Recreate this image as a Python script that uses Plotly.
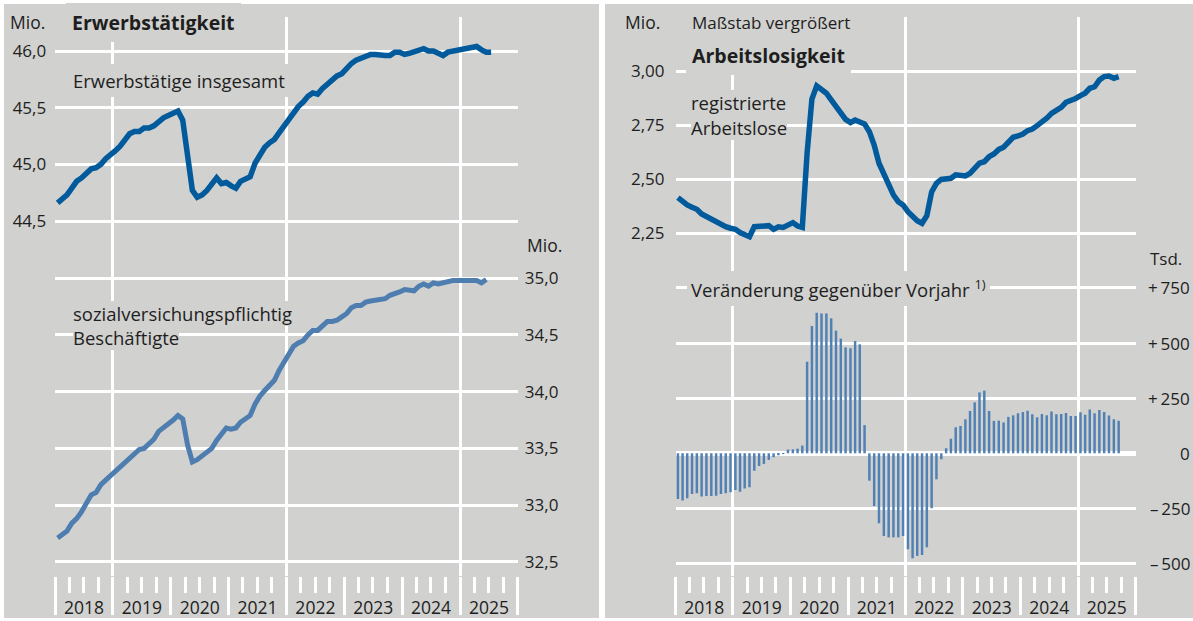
import plotly.graph_objects as go

# ---------------- data ----------------
# Erwerbstätige insgesamt, Mio., monthly Jan 2018 - Jul 2025
erwerbstaetige = [
    44.66, 44.69, 44.73, 44.79, 44.85, 44.88, 44.92, 44.96, 44.97, 45.00, 45.05, 45.08,
    45.12, 45.16, 45.21, 45.27, 45.29, 45.29, 45.32, 45.32, 45.34, 45.38, 45.41, 45.43,
    45.45, 45.47, 45.39, 45.05, 44.77, 44.71, 44.73, 44.77, 44.83, 44.88, 44.83, 44.84,
    44.81, 44.79, 44.85, 44.87, 44.89, 45.01, 45.09, 45.15, 45.19, 45.22, 45.28, 45.34,
    45.41, 45.46, 45.51, 45.55, 45.60, 45.63, 45.62, 45.67, 45.71, 45.75, 45.78, 45.80,
    45.85, 45.89, 45.92, 45.94, 45.96, 45.97, 45.97, 45.96, 45.96, 45.96, 45.99, 45.99,
    45.97, 45.98, 45.99, 46.01, 46.02, 46.00, 46.00, 45.98, 45.96, 45.99, 46.00, 46.01,
    46.01, 46.03, 46.03, 46.04, 46.01, 45.99, 45.99,
]
# sozialversicherungspflichtig Beschäftigte, Mio., Jan 2018 - Jun 2025
beschaeftigte_svp = [
    32.71, 32.74, 32.77, 32.84, 32.88, 32.94, 33.01, 33.09, 33.11, 33.18, 33.22, 33.26,
    33.30, 33.34, 33.38, 33.41, 33.46, 33.49, 33.50, 33.54, 33.58, 33.65, 33.68, 33.71,
    33.75, 33.79, 33.76, 33.53, 33.38, 33.40, 33.43, 33.46, 33.50, 33.57, 33.63, 33.68,
    33.67, 33.68, 33.73, 33.76, 33.79, 33.89, 33.96, 34.01, 34.06, 34.10, 34.19, 34.26,
    34.34, 34.40, 34.43, 34.45, 34.50, 34.54, 34.54, 34.58, 34.62, 34.62, 34.63, 34.66,
    34.69, 34.74, 34.76, 34.76, 34.79, 34.80, 34.81, 34.82, 34.82, 34.85, 34.86, 34.88,
    34.90, 34.90, 34.89, 34.93, 34.95, 34.93, 34.96, 34.95, 34.96, 34.98, 34.98, 34.98,
    34.98, 34.98, 34.98, 34.98, 34.96, 34.99,
]
# registrierte Arbeitslose, Mio., Jan 2018 - Sep 2025
arbeitslose = [
    2.414, 2.395, 2.380, 2.369, 2.360, 2.338, 2.326, 2.315, 2.298, 2.290, 2.279, 2.272,
    2.267, 2.252, 2.241, 2.233, 2.279, 2.282, 2.282, 2.284, 2.267, 2.279, 2.276, 2.287,
    2.298, 2.282, 2.276, 2.620, 2.870, 2.931, 2.915, 2.897, 2.866, 2.835, 2.801, 2.776,
    2.761, 2.773, 2.764, 2.755, 2.719, 2.657, 2.573, 2.519, 2.472, 2.426, 2.395, 2.380,
    2.349, 2.326, 2.307, 2.295, 2.330, 2.440, 2.480, 2.498, 2.503, 2.503, 2.519, 2.514,
    2.514, 2.526, 2.549, 2.573, 2.580, 2.603, 2.616, 2.637, 2.647, 2.673, 2.693, 2.699,
    2.708, 2.724, 2.731, 2.747, 2.762, 2.781, 2.804, 2.815, 2.832, 2.855, 2.863, 2.873,
    2.886, 2.897, 2.920, 2.927, 2.958, 2.974, 2.977, 2.966, 2.974,
]
# Veränderung gegenüber Vorjahr, Tsd., Jan 2018 - Sep 2025
veraenderung_vorjahr = [
    -207, -214, -204, -184, -181, -196, -193, -193, -192, -184, -181, -177,
    -166, -174, -159, -154, -79, -57, -48, -30, -18, -9, -3, 17,
    18, 21, 35, 415, 577, 637, 634, 634, 612, 556, 520, 480,
    476, 509, 494, 128, -124, -239, -317, -375, -381, -381, -381, -375,
    -435, -476, -465, -461, -426, -249, -118, -27, 23, 66, 118, 124,
    154, 192, 231, 276, 284, 192, 147, 148, 140, 165, 172, 181,
    187, 193, 177, 163, 178, 172, 190, 177, 178, 183, 169, 169,
    186, 175, 198, 181, 196, 187, 171, 154, 148,
]
erw_ticks = [44.5, 45.0, 45.5, 46.0]
svp_ticks = [32.5, 33.0, 33.5, 34.0, 34.5, 35.0]
alo_ticks = [2.25, 2.50, 2.75, 3.00]
tsd_ticks = [-500, -250, 0, 250, 500, 750]
tsd_labels = ["\u2013\u2009500", "\u2013\u2009250", "0", "+\u2009250", "+\u2009500", "+\u2009750"]


def months(n):
    return [f"{2018 + i // 12}-{i % 12 + 1:02d}" for i in range(n)]


# ---------------- styling ----------------
W, H = 1193, 621
GREY = "#d1d1cf"
DARK = "#005a9b"
LIGHT = "#4e7daf"
BAR = "#5080b4"
TXT = "#1e1e1e"
FONT = "Open Sans"


def px(x):
    return x / W


def py(y):
    return 1 - y / H


XR = ["2018-01-01", "2026-01-01"]
YDOM = [py(576), py(17)]

fig = go.Figure()
fig.add_trace(go.Scatter(x=months(len(erwerbstaetige)), y=erwerbstaetige, mode="lines",
                         xperiod="M1", xperiodalignment="middle",
                         line=dict(color=DARK, width=5.5), xaxis="x", yaxis="y"))
fig.add_trace(go.Scatter(x=months(len(beschaeftigte_svp)), y=beschaeftigte_svp, mode="lines",
                         xperiod="M1", xperiodalignment="middle",
                         line=dict(color=LIGHT, width=5), xaxis="x3", yaxis="y2"))
fig.add_trace(go.Bar(x=months(len(veraenderung_vorjahr)), y=veraenderung_vorjahr,
                     xperiod="M1", xperiodalignment="middle",
                     marker=dict(color=BAR, line=dict(width=0)), xaxis="x4", yaxis="y4"))
fig.add_trace(go.Scatter(x=months(len(arbeitslose)), y=arbeitslose, mode="lines",
                         xperiod="M1", xperiodalignment="middle",
                         line=dict(color=DARK, width=5.5), xaxis="x2", yaxis="y3"))


def tick_axis(domain, anchor):
    # year ticks (long), quarter ticks (short) and centred year labels
    return dict(domain=domain, anchor=anchor, type="date", range=XR, showgrid=False,
                zeroline=False, showline=False, showticklabels=True,
                ticklabelmode="period", tickformat="%Y", ticklabelstandoff=-22,
                tickfont=dict(size=17.5, color=TXT),
                ticks="outside", tickmode="linear", tick0="2018-01-01", dtick="M12",
                ticklen=38, tickwidth=2.5, tickcolor="white",
                minor=dict(ticks="outside", tick0="2018-01-01", dtick="M3", ticklen=16,
                           tickwidth=2.5, tickcolor="white", showgrid=False))


def grid_axis(over, anchor):
    # vertical gridlines every three years
    return dict(overlaying=over, anchor=anchor, type="date", range=XR, showgrid=True,
                gridcolor="white", gridwidth=3, tickmode="linear", tick0="2019-01-01",
                dtick="M36", ticks="", showticklabels=False, zeroline=False, showline=False)


def yax(**kw):
    base = dict(showgrid=True, gridcolor="white", gridwidth=2.5, zeroline=False,
                showline=False, ticks="", tickmode="array", tickfont=dict(size=17, color=TXT))
    base.update(kw)
    return base


fig.update_layout(
    width=W, height=H, autosize=False,
    margin=dict(l=0, r=0, t=0, b=0),
    paper_bgcolor="white", plot_bgcolor="rgba(0,0,0,0)",
    font=dict(family=FONT, size=17, color=TXT),
    separators=", ",
    showlegend=False,
    bargap=0.47,
    xaxis=tick_axis([px(55.2), px(517.8)], "y"),
    xaxis3=grid_axis("x", "y2"),
    xaxis2=tick_axis([px(675.5), px(1135.5)], "y3"),
    xaxis4=grid_axis("x2", "y4"),
    yaxis=yax(domain=YDOM, anchor="x", range=[41.368, 46.300], tickvals=erw_ticks,
              tickformat=".1f", ticklabelstandoff=8),
    yaxis2=yax(overlaying="y", side="right", anchor="x", range=[32.374, 37.305],
               tickvals=svp_ticks, tickformat=".1f", ticklabelstandoff=6),
    yaxis3=yax(domain=YDOM, anchor="x2", range=[0.662, 3.25], tickvals=alo_ticks,
               tickformat=".2f", ticklabelstandoff=10),
    yaxis4=yax(overlaying="y3", side="right", anchor="x2", range=[-556.2, 1977.8],
               tickvals=tsd_ticks, showticklabels=False, zeroline=True,
               zerolinecolor="white", zerolinewidth=4.5),
)

# panel backgrounds
fig.add_shape(type="rect", xref="paper", yref="paper", x0=px(4), x1=px(599), y0=py(618),
              y1=py(4), fillcolor=GREY, line_width=0, layer="below")
fig.add_shape(type="rect", xref="paper", yref="paper", x0=px(605), x1=px(1193), y0=py(618),
              y1=py(4), fillcolor=GREY, line_width=0, layer="below")


def text(t, x, y, size=18.5, bg=True, pad=4):
    fig.add_annotation(text=t, xref="paper", yref="paper", x=px(x - pad), y=py(y),
                       xanchor="left", yanchor="middle", align="left", showarrow=False,
                       font=dict(family=FONT, size=size, color=TXT),
                       bgcolor=GREY if bg else "rgba(0,0,0,0)", borderpad=pad,
                       borderwidth=0)


# left panel texts
text("Mio.", 10, 22, size=17.5, bg=False)
text("<b>Erwerbstätigkeit</b>", 72, 23, size=19.5, pad=6)
text("Erwerbstätige insgesamt", 72.7, 80.5)
text("sozialversichungspflichtig", 72.7, 313, pad=0)
text("Beschäftigte", 72.7, 337.5, pad=0)
text("Mio.", 527, 245, size=17.5, bg=False)
# right panel texts
text("Mio.", 625, 22, size=17.5, bg=False)
text("Maßstab vergrößert", 692, 22, size=17)
text("<b>Arbeitslosigkeit</b>", 692, 56, size=19.5, pad=6)
text("registrierte", 691, 103, pad=0)
text("Arbeitslose", 691, 127.5, pad=0)
text("Veränderung gegenüber Vorjahr <sup>1)</sup>", 691, 288)
text("Tsd.", 1150, 258, size=17, bg=False)

# right-hand axis labels of the change panel (right aligned)
for v, lab in zip(tsd_ticks, tsd_labels):
    fig.add_annotation(text=lab, xref="paper", yref="y4", x=px(1192), y=v,
                       xanchor="right", yanchor="middle", showarrow=False,
                       font=dict(family=FONT, size=17, color=TXT))

fig.write_html("out.html", config={"displayModeBar": False},
               post_script="document.body.style.margin='0';document.body.style.overflow='hidden';")
